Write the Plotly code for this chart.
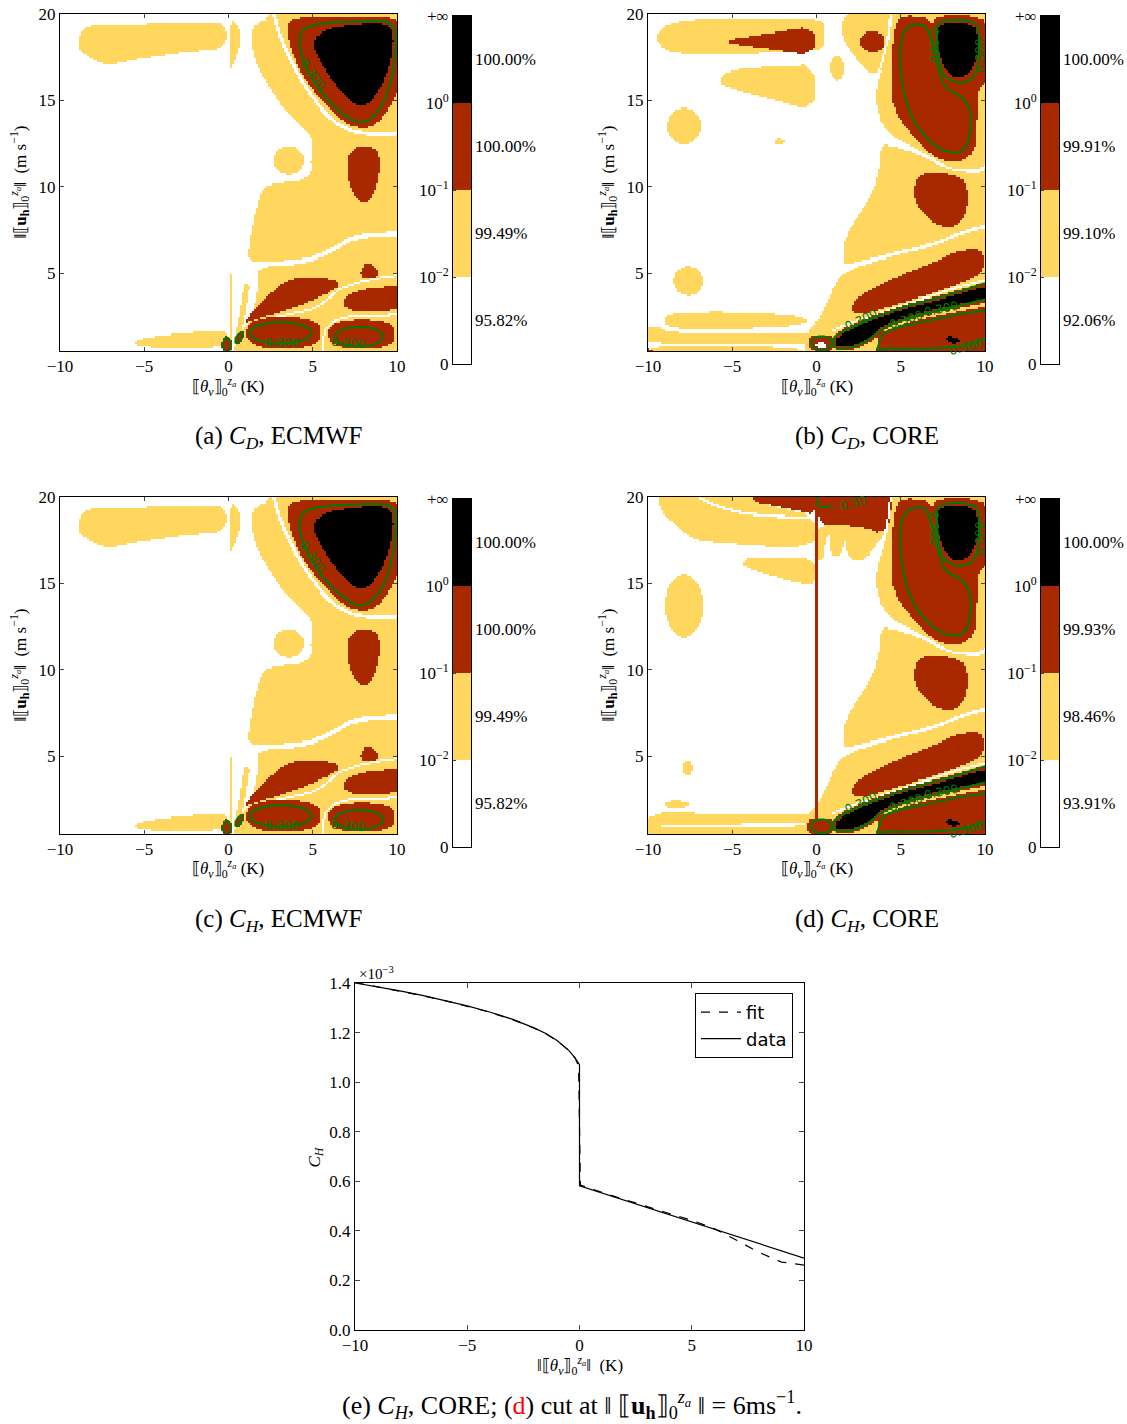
import numpy as np
import plotly.graph_objects as go

# ------------------------------------------------------------------ data
THETA_TICKS = [-10, -5, 0, 5, 10]
U_TICKS = [5, 10, 15, 20]
CBAR_TICKS = [0, 1, 2, 3, 4]
CBAR_TICK_TEXT = ["0", "10<sup>−2</sup>", "10<sup>−1</sup>", "10<sup>0</sup>", "+∞"]
LEVEL_COLORS = ["#FFFFFF", "#FFD75E", "#A82800", "#000000"]

# percentages shown beside each colour band (bottom band first)
PCT_A = ["95.82%", "99.49%", "100.00%", "100.00%"]
PCT_B = ["92.06%", "99.10%", "99.91%", "100.00%"]
PCT_C = ["95.82%", "99.49%", "100.00%", "100.00%"]
PCT_D = ["93.91%", "98.46%", "99.93%", "100.00%"]

CAPTIONS = {
    "a": "(a) <i>C<sub>D</sub></i>, ECMWF",
    "b": "(b) <i>C<sub>D</sub></i>, CORE",
    "c": "(c) <i>C<sub>H</sub></i>, ECMWF",
    "d": "(d) <i>C<sub>H</sub></i>, CORE",
    "e": "(e) <i>C<sub>H</sub></i>, CORE; (<span style='color:red'>d</span>) cut at ‖ ⟦<b>u</b><sub><b>h</b></sub>⟧<sub>0</sub><sup><i>z<sub>a</sub></i></sup> ‖ = 6ms<sup>−1</sup>.",
}

# cut of panel (d) at |u| = 6 m/s  (C_H in units of 1e-3)
CUT_THETA_DATA = [-10, -9, -8, -7, -6, -5, -4, -3, -2, -1.5, -1, -0.5, -0.2, 0.0,
                  0.0, 1, 2, 3, 4, 5, 6, 7, 8, 9, 10]
CUT_CH_DATA = [1.400, 1.385, 1.368, 1.350, 1.330, 1.308, 1.283, 1.254, 1.218, 1.196,
               1.168, 1.130, 1.098, 1.070, 0.582, 0.553, 0.524, 0.495, 0.466, 0.437,
               0.408, 0.379, 0.350, 0.320, 0.290]
CUT_THETA_FIT = [-10, -9, -8, -7, -6, -5, -4, -3, -2, -1.5, -1, -0.5, -0.2, -0.04,
                 0.04, 1, 2, 3, 4, 5, 6, 7, 8, 9, 10]
CUT_CH_FIT = [1.402, 1.385, 1.367, 1.349, 1.329, 1.307, 1.282, 1.253, 1.217, 1.195,
              1.167, 1.130, 1.098, 1.065, 0.585, 0.555, 0.526, 0.497, 0.470, 0.443,
              0.409, 0.362, 0.313, 0.274, 0.262]
CH_TICKS = [0.0, 0.2, 0.4, 0.6, 0.8, 1.0, 1.2, 1.4]

# --- region outlines of the classified fields (level: 0 white,1 yellow,2 red,3 black)
SHAPES_ECMWF = [
    ("poly", 1, [(-8.9, 18.4), (-8.7, 19.1), (-8.0, 19.38), (-5.0, 19.4), (-2.0, 19.45), (-0.1, 19.52),
                 (-0.1, 17.95), (-2.0, 17.85), (-4.0, 17.6), (-6.0, 17.3), (-7.0, 17.02), (-7.7, 17.2),
                 (-8.5, 17.65), (-8.9, 18.0)], 2),
    ("poly", 1, [(0.06, 19.7), (0.45, 19.45), (0.75, 18.8), (0.6, 18.0), (0.25, 17.1), (0.08, 16.75)], 1),
    ("poly", 1, [(1.45, 19.25), (1.9, 19.55), (2.3, 19.7), (2.6, 20.8), (12, 20.8), (12, 7.5), (10, 7.45),
                 (7.39, 7.25), (6.2, 6.48), (4.42, 5.78), (2.5, 5.7), (1.19, 5.66), (1.19, 6.58),
                 (1.39, 7.73), (1.68, 8.9), (2.08, 10.04), (3.07, 10.23), (4.26, 10.33), (4.95, 10.8),
                 (4.85, 11.58), (5.05, 12.54), (4.65, 13.2), (3.66, 14.08), (2.87, 15.04), (2.28, 16.0),
                 (1.68, 16.96), (1.29, 18.5)], 1),
    ("line", 0, [(2.5, 20.8), (2.87, 19.08), (3.8, 17.0), (5.05, 15.04), (6.24, 13.7), (7.82, 13.02),
                 (10.5, 13.1)], 0.1),
    ("ell", 1, 3.56, 11.53, 0.9, 0.82, 0, 2),
    ("poly", 2, [(3.47, 19.55), (4.1, 19.8), (7.23, 19.85), (9.8, 19.83), (10.3, 19.3), (10.3, 16.0),
                 (9.4, 14.27), (8.61, 13.5), (7.82, 13.4), (6.83, 13.7), (5.45, 15.04), (4.26, 16.58),
                 (3.56, 18.3)], 2),
    ("poly", 3, [(4.95, 18.5), (5.84, 19.17), (8.22, 19.46), (9.7, 19.37), (9.8, 17.9), (9.2, 16.0),
                 (8.4, 14.85), (7.82, 14.6), (7.03, 15.04), (5.84, 16.58), (5.15, 17.73)], 2),
    ("poly", 2, [(7.1, 11.8), (7.5, 12.3), (8.3, 12.4), (8.9, 12.1), (9.0, 11.2), (8.8, 10.0), (8.4, 9.2),
                 (8.0, 9.0), (7.5, 9.4), (7.1, 10.3), (7.0, 11.2)], 2),
    ("poly", 1, [(1.75, 5.4), (4.42, 5.5), (6.2, 6.18), (7.39, 6.98), (10, 7.15), (12, 7.2), (12, -1),
                 (0.25, -1), (0.3, 0.9), (0.7, 1.6), (1.0, 1.9), (1.35, 2.5), (1.6, 3.5), (1.75, 4.5)], 1),
    ("line", 1, [(0.08, 0.4), (0.1, 4.9)], 0.07),
    ("line", 1, [(0.45, 1.0), (0.8, 2.6), (1.05, 4.2)], 0.17),
    ("poly", 2, [(0.75, 2.0), (1.6, 3.0), (2.6, 3.95), (3.45, 4.6), (4.64, 4.8), (5.8, 4.72), (6.72, 4.42),
                 (6.2, 4.0), (5.43, 3.64), (4.4, 3.2), (3.45, 2.9), (2.5, 2.6), (1.6, 2.35)], 2),
    ("poly", 2, [(7.7, 4.78), (8.2, 5.8), (9.05, 4.88), (8.5, 4.72)], 1),
    ("line", 0, [(1.3, 2.1), (2.5, 2.4), (4.0, 2.72), (5.13, 2.97), (6.0, 3.6), (6.62, 4.13), (8.2, 4.6),
                 (10.5, 4.95)], 0.06),
    ("line", 0, [(5.55, 0.2), (5.6, 1.2), (5.8, 1.9), (6.62, 2.42), (8, 2.55), (10.5, 2.6)], 0.06),
    ("poly", 2, [(6.72, 3.35), (7.2, 3.85), (8.4, 4.13), (9.4, 4.2), (10.6, 4.25), (10.6, 2.95), (9.2, 2.85),
                 (7.8, 2.77), (7.0, 2.95)], 2),
    ("ell", 2, 3.25, 1.55, 2.2, 0.9, 0, 2.6),
    ("ell", 2, 7.9, 1.47, 1.98, 0.82, 0, 2.6),
    ("poly", 1, [(-5.6, 1.0), (-5.0, 1.25), (-3.5, 1.45), (-1.5, 1.62), (-0.05, 1.72), (-0.05, 0.76),
                 (-1.5, 0.72), (-3.5, 0.7), (-5.2, 0.76)], 2),
    ("ell", 2, -0.1, 0.85, 0.28, 0.5, 0, 2),
    ("ell", 2, 0.63, 1.27, 0.2, 0.42, -30, 2),
]

SHAPES_CORE_LEFT_D = [
    ("poly", 1, [(-9.53, 18.5), (-9.23, 19.27), (-7.55, 19.68), (-3.6, 19.72), (0.16, 19.72), (0.45, 19.3),
                 (0.45, 18.3), (0.16, 17.83), (-3.6, 17.73), (-7.55, 17.69), (-8.93, 17.83)], 2),
    ("poly", 2, [(-5.9, 18.4), (-3.0, 18.85), (-0.05, 19.3), (-0.05, 17.6), (-3.0, 18.0)], 1),
    ("poly", 1, [(-5.87, 16.1), (-5.18, 16.77), (-2.6, 16.96), (-0.04, 17.06), (-0.04, 14.37), (-2.6, 15.04),
                 (-5.18, 15.71)], 1),
    ("ell", 1, -7.85, 13.5, 1.0, 1.05, 0, 2),
    ("ell", 1, -2.2, 12.6, 0.3, 0.18, 0, 2),
    ("ell", 1, -7.6, 4.55, 0.88, 0.85, 0, 2),
    ("poly", 1, [(-9.1, 2.25), (-8.8, 2.7), (-6, 2.78), (-3, 2.7), (-0.5, 2.45), (-0.6, 2.0), (-3, 1.82),
                 (-6, 1.76), (-8.8, 1.8)], 2),
    ("poly", 1, [(-11, 1.95), (-9.5, 1.9), (-8.6, 1.55), (-6, 1.55), (-2, 1.55), (0.1, 1.5), (0.3, 1.2),
                 (0.1, 0.95), (-3, 0.95), (-11, 0.95)], 1),
    ("poly", 1, [(-11, 0.78), (-4, 0.75), (-0.4, 0.72), (-0.4, -1), (-11, -1)], 1),
    ("poly", 1, [(1.5, 19.5), (1.65, 19.9), (3.0, 20.6), (4.3, 20.6), (4.3, 19.6), (4.25, 17.3), (3.9, 16.8),
                 (3.27, 16.47), (2.6, 17.1), (1.9, 18.0), (1.5, 18.7)], 1),
    ("ell", 2, 3.3, 18.4, 0.74, 0.6, 0, 2),
    ("ell", 1, 1.2, 16.9, 0.4, 0.72, 0, 2),
    ("ell", 2, -10, 0.5, 0.25, 0.12, 0, 2),
]

SHAPES_CORE_LEFT_H = [
    ("poly", 1, [(-9.4, 20.6), (-3.7, 20.6), (-3.6, 19.7), (-2.5, 19.45), (-0.05, 18.9), (-0.05, 16.93),
                 (-5.5, 17.32), (-7.3, 17.5), (-8.5, 18.5), (-9.3, 19.25)], 1),
    ("poly", 2, [(-3.7, 20.6), (-3.75, 19.85), (-3.5, 19.65), (-2.5, 19.5), (-1.0, 19.2), (-0.05, 18.95),
                 (-0.05, 20.6)], 1),
    ("line", 0, [(-6.91, 19.95), (-5.92, 19.44), (-3.95, 18.96), (-0.03, 18.77)], 0.07),
    ("poly", 1, [(-4.45, 16.2), (-4.0, 16.5), (-2.0, 16.55), (-0.05, 16.45), (-0.05, 14.9), (-1.0, 15.0),
                 (-2.5, 15.4), (-4.0, 15.85)], 1),
    ("ell", 1, -7.85, 13.7, 1.13, 1.8, 0, 2),
    ("ell", 1, -7.65, 4.3, 0.3, 0.43, 0, 2),
    ("ell", 1, -8.3, 2.2, 0.75, 0.22, 0, 2),
    ("poly", 1, [(-11, 1.7), (-4, 1.68), (-0.5, 1.65), (-0.05, 1.6), (-0.05, -1), (-11, -1)], 1),
    ("line", 0, [(-9.2, 1.0), (-5.0, 1.02), (-0.6, 1.05)], 0.07),
    ("poly", 1, [(0.0, 18.7), (0.0, 16.4), (0.45, 16.4), (0.5, 17.9), (1.6, 17.95), (1.8, 16.6), (2.3, 16.3),
                 (3.0, 16.5), (3.5, 17.2), (4.0, 17.8), (4.3, 18.7)], 1),
    ("ell", 1, 1.15, 17.37, 0.42, 0.8, 0, 2),
    ("poly", 2, [(0.0, 20.6), (0.0, 18.45), (1.5, 18.4), (3.0, 18.2), (3.77, 17.9), (4.3, 18.5), (4.6, 19.3),
                 (4.7, 20.6)], 1),
]

BLACK_BAND = [(1.1, 1.33), (3.28, 2.29), (5.25, 2.97), (7.23, 3.45), (10.5, 4.35), (10.5, 3.6), (7.63, 3.06),
              (5.25, 2.48), (3.87, 1.9), (3.28, 1.33), (2.28, 0.84), (1.2, 0.7)]

SHAPES_CORE_RIGHT = [
    ("poly", 1, [(1.6, 5.1), (4.26, 5.93), (6.84, 6.52), (9.0, 7.38), (10.1, 7.62), (12, 7.7), (12, -1),
                 (-0.7, -1), (-0.7, 1.0), (-0.5, 1.6), (0.1, 2.3), (0.6, 3.3), (1.1, 4.4)], 1),
    ("poly", 1, [(3.77, 12.32), (4.17, 12.45), (6.34, 11.82), (7.53, 11.04), (9.5, 10.74), (10.1, 11.04),
                 (12, 11.1), (12, 7.95), (10.1, 7.85), (9.0, 7.6), (6.84, 6.72), (4.26, 6.15), (1.89, 5.5),
                 (1.6, 5.6), (1.55, 6.5), (1.99, 7.69), (2.98, 9.05), (3.67, 10.58)], 1),
    ("line", 0, [(4.38, 20.6), (4.33, 19.3), (3.98, 17.5), (3.48, 16.0)], 0.06),
    ("poly", 1, [(4.5, 20.6), (4.45, 19.3), (4.1, 17.5), (3.6, 16.0), (3.5, 14.8), (3.9, 13.5), (4.8, 12.7),
                 (6.34, 12.05), (7.53, 11.28), (8.2, 11.02), (9.5, 11.0), (10.1, 11.28), (12, 11.3),
                 (12, 20.6)], 1),
    ("poly", 2, [(4.76, 19.65), (5.2, 19.9), (6.34, 19.85), (6.7, 19.5), (6.84, 19.36), (7.0, 19.6),
                 (7.13, 19.9), (9.7, 19.9), (10.3, 19.07), (10.3, 16.3), (9.8, 15.8), (9.55, 15.41),
                 (9.5, 12.52), (9.1, 11.74), (8.12, 11.36), (6.93, 11.74), (5.55, 13.1), (4.56, 14.44),
                 (4.36, 16.37), (4.56, 18.69)], 1),
    ("poly", 3, [(7.15, 19.2), (7.5, 19.45), (9.2, 19.45), (9.6, 18.9), (9.6, 17.6), (9.2, 16.7), (8.5, 16.28),
                 (7.8, 16.5), (7.4, 17.3), (7.15, 18.3)], 2),
    ("poly", 2, [(5.95, 10.58), (6.74, 10.84), (8.32, 10.68), (8.91, 10.2), (9.0, 9.05), (8.72, 8.08),
                 (7.92, 7.6), (6.93, 7.89), (5.95, 8.85), (5.75, 9.81)], 2),
    ("poly", 2, [(1.89, 2.97), (2.68, 3.84), (5.25, 5.0), (6.84, 5.57), (8.22, 6.24), (9.6, 6.44), (9.95, 5.96),
                 (9.85, 5.0), (8.6, 4.41), (6.23, 3.64), (4.26, 3.06), (2.48, 2.58)], 2),
    ("line", 0, [(1.0, 1.7), (2.5, 2.3), (5.25, 3.2), (7.0, 3.75), (8.6, 4.25), (10.5, 4.72)], 0.06),
    ("poly", 2, [(3.57, -1), (3.57, 1.2), (3.7, 1.65), (5.25, 2.2), (7.63, 2.75), (10.5, 3.25), (12, 3.25),
                 (12, -1)], 1),
    ("line", 1, [(3.0, 1.25), (3.9, 1.68), (5.25, 2.18), (7.63, 2.74), (10.5, 3.25)], 0.08),
    ("poly", 2, BLACK_BAND, 1, 0.22),
    ("poly", 3, BLACK_BAND, 1),
    ("poly", 3, [(7.63, 1.42), (8.6, 1.2), (8.3, 0.94), (7.8, 1.0)], 1),
    ("ell", 2, 0.3, 0.95, 0.75, 0.5, 0, 2.5),
]
SHAPES_CORE_D_EXTRA = [("ell", 0, 0.25, 0.85, 0.3, 0.18, 0, 2)]
SHAPES_CORE_H_EXTRA = [
    ("ell", 2, 0.2, 0.95, 0.7, 0.5, 0, 3),
    ("poly", 2, [(-0.055, -1), (0.055, -1), (0.055, 21), (-0.055, 21)], 0),
]

SHAPES_A = SHAPES_ECMWF
SHAPES_B = SHAPES_CORE_LEFT_D + SHAPES_CORE_RIGHT + SHAPES_CORE_D_EXTRA
SHAPES_C = SHAPES_ECMWF
SHAPES_D = SHAPES_CORE_LEFT_H + SHAPES_CORE_RIGHT + SHAPES_CORE_H_EXTRA

# green 0.300 contour lines
CONTOURS_ECMWF = [
    ("pts", [(4.26, 19.08), (5.25, 19.46), (8.22, 19.62), (9.9, 19.56), (9.96, 17.9), (9.6, 15.8), (9.0, 14.46),
             (8.22, 13.73), (7.43, 13.73), (6.24, 14.65), (5.05, 16.0), (4.16, 17.92)], True),
    ("ell", 3.1, 1.55, 1.83, 0.62, 0),
    ("ell", 7.75, 1.33, 1.43, 0.57, 0),
    ("ell", -0.1, 0.85, 0.22, 0.43, 0),
    ("ell", 0.63, 1.27, 0.16, 0.36, -30),
]
CONTOURS_CORE = [
    ("pts", [(6.14, 19.46), (5.35, 19.27), (4.96, 18.5), (4.96, 16.37), (5.55, 14.05), (6.74, 12.52),
             (7.92, 11.9), (8.91, 12.13), (9.2, 13.48), (9.1, 14.64), (8.52, 15.31), (7.73, 15.6),
             (7.33, 16.37), (7.13, 17.53), (6.84, 18.5), (6.53, 19.27)], True),
    ("pts", [(7.13, 19.65), (9.5, 19.65), (9.7, 18.69), (9.6, 16.76), (9.1, 16.08), (8.32, 15.99),
             (7.52, 16.37), (7.23, 17.34), (7.13, 18.69)], True),
    ("pts", [(10.1, 3.5), (7.63, 2.96), (5.25, 2.37), (3.87, 1.79), (3.28, 1.22), (2.28, 0.73), (1.2, 0.58),
             (0.95, 0.95), (1.05, 1.42), (3.28, 2.4), (5.25, 3.08), (7.23, 3.56), (10.1, 4.45)], False),
    ("pts", [(3.57, 0.5), (3.85, 1.5), (4.66, 1.85), (5.85, 2.05), (7.83, 2.55), (10.0, 2.85)], False),
    ("pts", [(3.7, 0.5), (3.87, 0.65), (6.0, 0.62), (8.8, 0.75), (10.0, 1.23)], False),
    ("ell", 0.3, 0.95, 0.62, 0.4, 0),
]
CONTOURS_A = CONTOURS_ECMWF
CONTOURS_B = CONTOURS_CORE
CONTOURS_C = CONTOURS_ECMWF
CONTOURS_D = CONTOURS_CORE + [("pts", [(0.05, 20.0), (0.05, 19.35), (1.0, 19.5)], False)]

LABELS_ECMWF = [(4.95, 16.5, 55, "0.300"), (3.2, 0.95, 0, "0.300"), (7.1, 0.95, 5, "0.300")]
LABELS_CORE = [(6.97, 18.2, 90, "0.300"), (9.72, 17.6, -90, "0.300"), (2.63, 2.3, -25, "0.300"),
               (5.3, 2.3, -18, "0.300"), (7.4, 2.95, -12, "0.300"), (8.85, 0.72, -15, "0.300")]
LABELS_A = LABELS_ECMWF
LABELS_B = LABELS_CORE
LABELS_C = LABELS_ECMWF
LABELS_D = LABELS_CORE + [(2.2, 19.65, -15, "0.30")]

# ------------------------------------------------------------------ layout constants
W, H = 1127, 1424
PANEL_BOX = {"a": (60, 397, 14, 351), "b": (648, 985, 14, 351),
             "c": (60, 397, 497, 834), "d": (648, 985, 497, 834)}
CBAR_BOX = {"a": (453, 471, 16, 364), "b": (1041, 1059, 16, 364),
            "c": (453, 471, 499, 847), "d": (1041, 1059, 499, 847)}
LINE_BOX = (355, 804, 983, 1330)
SERIF = "Liberation Serif"
TICKFONT = dict(family=SERIF, size=17, color="black")
GREEN = "#007A00"

NX, NY = 169, 165
gx = np.linspace(-10, 10, NX)
gy = np.linspace(0.5, 20, NY)
GX, GY = np.meshgrid(gx, gy)


def chaikin(pts, n, closed=True):
    P = np.asarray(pts, float)
    for _ in range(n):
        if closed:
            N = np.roll(P, -1, axis=0)
            Q = 0.75 * P + 0.25 * N
            R = 0.25 * P + 0.75 * N
            out = np.empty((2 * len(P), 2))
            out[0::2] = Q
            out[1::2] = R
            P = out
        else:
            A, B = P[:-1], P[1:]
            Q = 0.75 * A + 0.25 * B
            R = 0.25 * A + 0.75 * B
            mid = np.empty((2 * len(A), 2))
            mid[0::2] = Q
            mid[1::2] = R
            P = np.vstack([P[:1], mid, P[-1:]])
    return P


def inside(P, X, Y):
    res = np.zeros(X.shape, bool)
    x0, y0 = P[:, 0], P[:, 1]
    x1, y1 = np.roll(x0, -1), np.roll(y0, -1)
    for a, b, c, d in zip(x0, y0, x1, y1):
        if b == d:
            continue
        cond = ((b > Y) != (d > Y)) & (X < (c - a) * (Y - b) / (d - b) + a)
        res ^= cond
    return res


def dist(P, X, Y, closed):
    if closed:
        A, B = P, np.roll(P, -1, axis=0)
    else:
        A, B = P[:-1], P[1:]
    dmin = np.full(X.shape, np.inf)
    for (ax, ay), (bx, by) in zip(A, B):
        vx, vy = bx - ax, by - ay
        L2 = vx * vx + vy * vy + 1e-12
        t = np.clip(((X - ax) * vx + (Y - ay) * vy) / L2, 0, 1)
        d = np.hypot(X - ax - t * vx, Y - ay - t * vy)
        dmin = np.minimum(dmin, d)
    return dmin


def rasterize(shapes):
    L = np.zeros(GX.shape, int)
    for s in shapes:
        kind, lev = s[0], s[1]
        if kind == "poly":
            P = chaikin(s[2], s[3])
            mask = inside(P, GX, GY)
            if len(s) > 4 and s[4] > 0:
                mask = mask | (dist(P, GX, GY, True) < s[4])
        elif kind == "ell":
            cx, cy, rx, ry, ang, p = s[2:8]
            a = np.radians(ang)
            dx, dy = GX - cx, GY - cy
            u = dx * np.cos(a) + dy * np.sin(a)
            v = -dx * np.sin(a) + dy * np.cos(a)
            mask = np.abs(u / rx) ** p + np.abs(v / ry) ** p <= 1
        else:  # thick line
            P = chaikin(s[2], 2, closed=False)
            mask = dist(P, GX, GY, False) < s[3]
        L[mask] = lev
    return L


def contour_xy(c):
    if c[0] == "ell":
        cx, cy, rx, ry, ang = c[1:6]
        t = np.linspace(0, 2 * np.pi, 120)
        a = np.radians(ang)
        u, v = rx * np.cos(t), ry * np.sin(t)
        x = cx + u * np.cos(a) - v * np.sin(a)
        y = cy + u * np.sin(a) + v * np.cos(a)
        return x, y
    P = chaikin(c[1], 3, closed=c[2])
    if c[2]:
        P = np.vstack([P, P[:1]])
    return P[:, 0], P[:, 1]


def dom_x(x0, x1):
    return [x0 / W, x1 / W]


def dom_y(y0, y1):
    return [1 - y1 / H, 1 - y0 / H]


def paper_text(px, py, text, size=17, angle=0, xanchor="center", family=SERIF, color="black"):
    return dict(x=px / W, y=1 - py / H, xref="paper", yref="paper", text=text, showarrow=False,
                textangle=angle, xanchor=xanchor, yanchor="middle",
                font=dict(family=family, size=size, color=color))


CSCALE = [[0, LEVEL_COLORS[0]], [0.25, LEVEL_COLORS[0]], [0.25, LEVEL_COLORS[1]], [0.5, LEVEL_COLORS[1]],
          [0.5, LEVEL_COLORS[2]], [0.75, LEVEL_COLORS[2]], [0.75, LEVEL_COLORS[3]], [1, LEVEL_COLORS[3]]]

Y_TITLE = "‖⟦<b>u</b><sub><b>h</b></sub>⟧<sub>0</sub><sup><i>z<sub>a</sub></i></sup>‖  (m s<sup>−1</sup>)"
X_TITLE = "⟦<i>θ<sub>v</sub></i>⟧<sub>0</sub><sup><i>z<sub>a</sub></i></sup> (K)"

fig = go.Figure()
layout = {}
annotations = []

panels = [("a", SHAPES_A, CONTOURS_A, LABELS_A, PCT_A),
          ("b", SHAPES_B, CONTOURS_B, LABELS_B, PCT_B),
          ("c", SHAPES_C, CONTOURS_C, LABELS_C, PCT_C),
          ("d", SHAPES_D, CONTOURS_D, LABELS_D, PCT_D)]


def axname(k):
    return ("x" if k == 1 else f"x{k}"), ("y" if k == 1 else f"y{k}")


def laykey(k):
    return ("xaxis" if k == 1 else f"xaxis{k}"), ("yaxis" if k == 1 else f"yaxis{k}")


for i, (key, shapes, contours, labels, pct) in enumerate(panels):
    k = i + 1
    xa, ya = axname(k)
    xk, yk = laykey(k)
    Z = rasterize(shapes)
    fig.add_trace(go.Heatmap(x=gx, y=gy, z=Z, colorscale=CSCALE, zmin=-0.5, zmax=3.5, showscale=False,
                             hoverinfo="skip", xaxis=xa, yaxis=ya))
    for c in contours:
        cx_, cy_ = contour_xy(c)
        fig.add_trace(go.Scatter(x=cx_, y=cy_, mode="lines", line=dict(color=GREEN, width=2),
                                 showlegend=False, hoverinfo="skip", xaxis=xa, yaxis=ya))
    for (lx, ly, ang, txt) in labels:
        annotations.append(dict(x=lx, y=ly, xref=xa, yref=ya, text=txt, showarrow=False, textangle=ang,
                                xanchor="center", yanchor="middle",
                                font=dict(family="DejaVu Sans", size=12, color=GREEN)))
    x0, x1, y0, y1 = PANEL_BOX[key]
    common = dict(ticks="inside", ticklen=4, mirror="ticks", showline=True, linecolor="black",
                  linewidth=1, showgrid=False, zeroline=False, tickfont=TICKFONT, automargin=False)
    layout[xk] = dict(domain=dom_x(x0, x1), anchor=ya, range=[-10, 10], tickvals=THETA_TICKS, **common)
    layout[yk] = dict(domain=dom_y(y0, y1), anchor=xa, range=[0.5, 20], tickvals=U_TICKS, **common)
    annotations.append(paper_text(x0 - 40, (y0 + y1) / 2, Y_TITLE, size=17, angle=-90))
    annotations.append(paper_text((x0 + x1) / 2, y1 + 35, X_TITLE, size=17))
    annotations.append(paper_text((x0 + x1) / 2 + 50, y1 + 86, CAPTIONS[key], size=25))

    # colour bar
    kc = k + 5
    xca, yca = axname(kc)
    xck, yck = laykey(kc)
    fig.add_trace(go.Heatmap(x=[0.5], y=[0.5, 1.5, 2.5, 3.5], z=[[0], [1], [2], [3]], colorscale=CSCALE,
                             zmin=-0.5, zmax=3.5, showscale=False, hoverinfo="skip", xaxis=xca, yaxis=yca))
    bx0, bx1, by0, by1 = CBAR_BOX[key]
    layout[xck] = dict(domain=dom_x(bx0, bx1), anchor=yca, range=[0, 1], showticklabels=False, ticks="",
                       showline=True, mirror=True, linecolor="black", linewidth=1, showgrid=False,
                       zeroline=False, fixedrange=True, automargin=False)
    layout[yck] = dict(domain=dom_y(by0, by1), anchor=xca, range=[0, 4], tickvals=CBAR_TICKS,
                       ticktext=CBAR_TICK_TEXT, ticks="inside", ticklen=3, showline=True, mirror=True,
                       linecolor="black", linewidth=1, showgrid=False, zeroline=False, tickfont=TICKFONT,
                       automargin=False)
    for j, t in enumerate(pct):
        annotations.append(dict(x=(bx1 + 2) / W, y=j + 0.5, xref="paper", yref=yca, text=t, showarrow=False,
                                xanchor="left", yanchor="middle",
                                font=dict(family=SERIF, size=17, color="black")))

# ---- line chart (e)
fig.add_trace(go.Scatter(x=CUT_THETA_FIT, y=CUT_CH_FIT, mode="lines", name="fit",
                         line=dict(color="black", width=1.2, dash="dash"), xaxis="x5", yaxis="y5"))
fig.add_trace(go.Scatter(x=CUT_THETA_DATA, y=CUT_CH_DATA, mode="lines", name="data",
                         line=dict(color="black", width=1.2), xaxis="x5", yaxis="y5"))
lx0, lx1, ly0, ly1 = LINE_BOX
common = dict(ticks="inside", ticklen=5, mirror="ticks", showline=True, linecolor="black", linewidth=1,
              showgrid=False, zeroline=False, tickfont=TICKFONT, automargin=False)
layout["xaxis5"] = dict(domain=dom_x(lx0, lx1), anchor="y5", range=[-10, 10], tickvals=THETA_TICKS, **common)
layout["yaxis5"] = dict(domain=dom_y(ly0, ly1), anchor="x5", range=[0, 1.4], tickvals=CH_TICKS,
                        tickformat=".1f", **common)
annotations.append(paper_text(lx0 + 22, ly0 - 10, "×10<sup>−3</sup>", size=15))
annotations.append(paper_text(315, (ly0 + ly1) / 2, "<i>C<sub>H</sub></i>", size=17, angle=-90))
annotations.append(paper_text((lx0 + lx1) / 2, ly1 + 35,
                              "‖⟦<i>θ<sub>v</sub></i>⟧<sub>0</sub><sup><i>z<sub>a</sub></i></sup>‖  (K)",
                              size=17))
annotations.append(paper_text((lx0 + lx1) / 2 - 8, 1405, CAPTIONS["e"], size=26))

fig.update_layout(
    width=W, height=H, margin=dict(l=0, r=0, t=0, b=0, autoexpand=False),
    paper_bgcolor="white", plot_bgcolor="white",
    showlegend=True,
    legend=dict(x=793 / W, y=1 - 993 / H, xanchor="right", yanchor="top", bordercolor="black",
                borderwidth=1, bgcolor="white", itemwidth=40,
                font=dict(family="DejaVu Sans", size=18, color="black")),
    annotations=annotations, **layout)

fig.write_html("out.html", config={"displayModeBar": False},
               post_script="document.body.style.margin='0px';")
